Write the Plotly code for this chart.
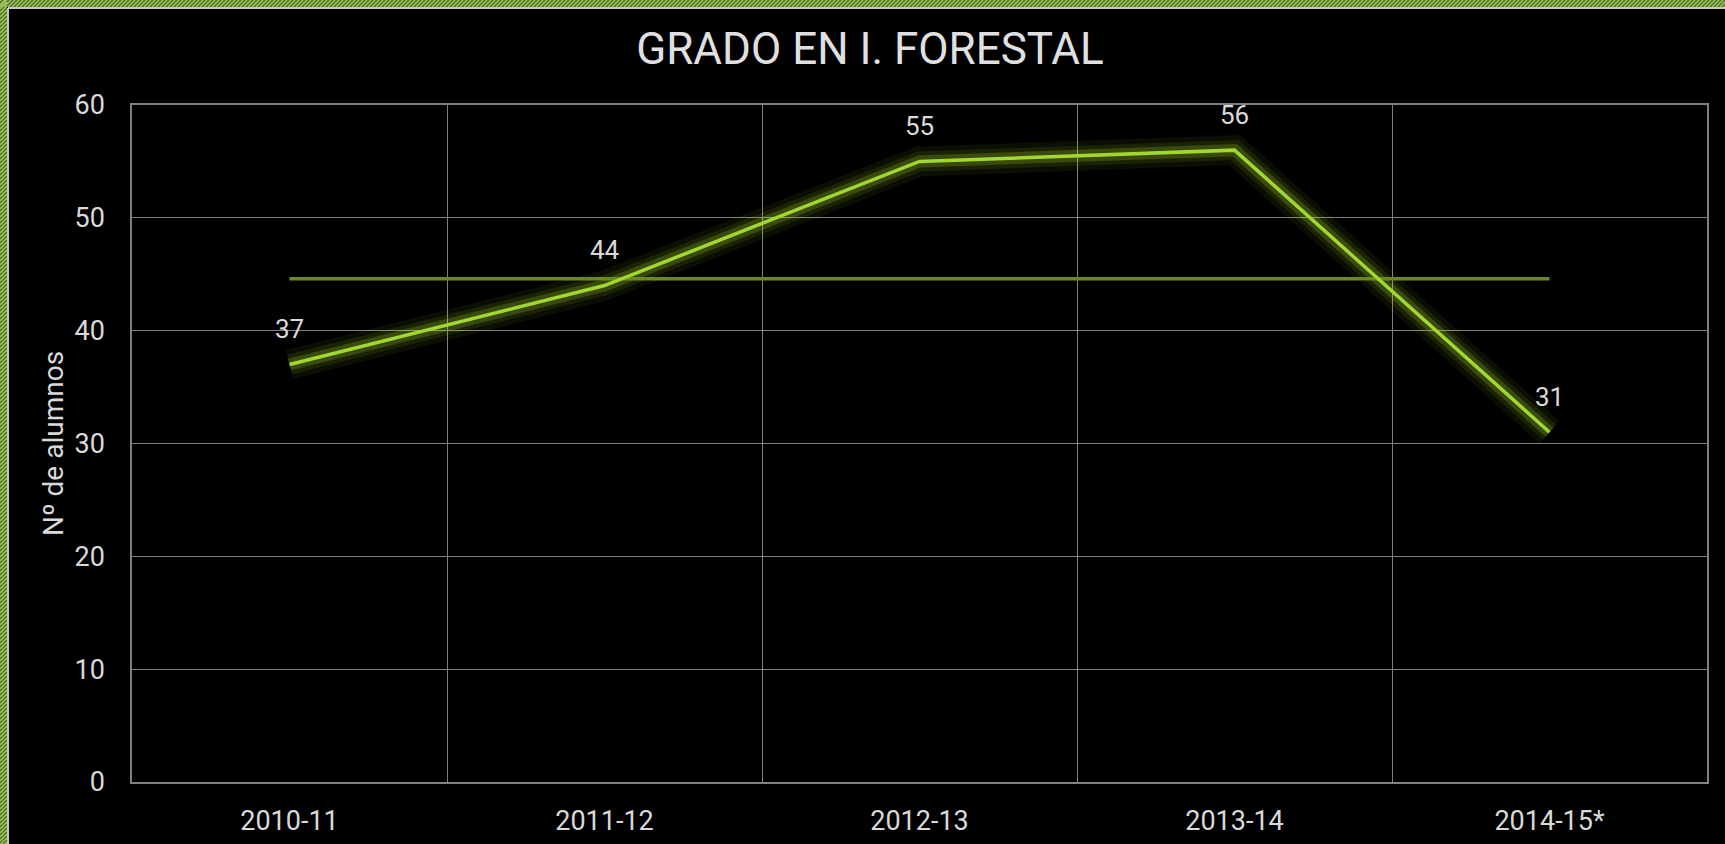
import plotly.graph_objects as go

categories = ["2010-11", "2011-12", "2012-13", "2013-14", "2014-15*"]
alumnos = [37, 44, 55, 56, 31]
y_ticks = [0, 10, 20, 30, 40, 50, 60]
title_text = "GRADO EN I. FORESTAL"
y_title = "Nº de alumnos"

W, H = 1725, 844
L, R, T, B = 132, 18, 105, 62
PW, PH = W - L - R, H - T - B

def px(x):
    return (x - L) / PW

def py(y):
    return (H - B - y) / PH

xs = list(range(len(categories)))
media = sum(alumnos) / len(alumnos)

fig = go.Figure()

# glow layers
for w, a in [(30, 0.06), (20, 0.10), (12, 0.20)]:
    fig.add_trace(go.Scatter(x=xs, y=alumnos, mode="lines",
                             line=dict(color=f"rgba(180,230,40,{a})", width=w, shape="linear"),
                             hoverinfo="skip", showlegend=False))

# mean line
fig.add_trace(go.Scatter(x=[xs[0], xs[-1]], y=[media, media], mode="lines",
                         line=dict(color="#6B8A1C", width=3.5),
                         showlegend=False, hoverinfo="skip"))

# main line
fig.add_trace(go.Scatter(x=xs, y=alumnos, mode="lines",
                         line=dict(color="#A2D630", width=3.5),
                         showlegend=False))

# data labels
fig.add_trace(go.Scatter(x=xs, y=alumnos, mode="markers+text",
                         marker=dict(size=30, color="rgba(0,0,0,0)"),
                         text=[str(v) for v in alumnos], textposition="top center",
                         textfont=dict(color="#D9D9D9", size=26, family="Roboto"),
                         hoverinfo="skip", showlegend=False))

shapes = []
stripe_light = "#9CC45C"
stripe_dark = "#4F6E2A"
shapes.append(dict(type="rect", xref="paper", yref="paper", x0=px(0), x1=px(7), y0=py(H), y1=py(0),
                   fillcolor=stripe_dark, line=dict(width=0), layer="above"))
shapes.append(dict(type="rect", xref="paper", yref="paper", x0=px(0), x1=px(W), y0=py(7), y1=py(0),
                   fillcolor=stripe_dark, line=dict(width=0), layer="above"))
step = 4
for yy in range(-10, H + 10, step):
    shapes.append(dict(type="line", xref="paper", yref="paper",
                       x0=px(0), y0=py(yy + 7), x1=px(7), y1=py(yy),
                       line=dict(color=stripe_light, width=1.6), layer="above"))
for xx in range(0, W + 10, step):
    shapes.append(dict(type="line", xref="paper", yref="paper",
                       x0=px(xx), y0=py(7), x1=px(xx + 7), y1=py(0),
                       line=dict(color=stripe_light, width=1.6), layer="above"))
shapes.append(dict(type="line", xref="paper", yref="paper", x0=px(8), x1=px(8), y0=py(H), y1=py(8),
                   line=dict(color="#C8C8C8", width=2), layer="above"))
shapes.append(dict(type="line", xref="paper", yref="paper", x0=px(8), x1=px(W), y0=py(8), y1=py(8),
                   line=dict(color="#C8C8C8", width=2), layer="above"))

fig.update_layout(
    width=W, height=H,
    margin=dict(l=L, r=R, t=T, b=B, autoexpand=False),
    paper_bgcolor="black", plot_bgcolor="black",
    font=dict(family="Roboto", color="#D9D9D9", size=27),
    title=dict(text=title_text, x=870 / W, xanchor="center", xref="container", y=1 - 49 / H, yanchor="middle",
               font=dict(size=44, color="#E0E0E0", family="Roboto", weight=400)),
    shapes=shapes,
    showlegend=False,
)
fig.update_xaxes(range=[-0.5, 4.5], tickvals=xs, ticktext=categories, showgrid=False,
                 showline=True, linecolor="#808080", linewidth=1.5, mirror=True,
                 ticks="", ticklabelstandoff=14, tickfont=dict(size=27, color="#D9D9D9"),
                 zeroline=False,
                 minor=dict(tickvals=[0.5, 1.5, 2.5, 3.5], showgrid=True, gridcolor="#808080", gridwidth=1.2))
fig.update_yaxes(range=[0, 60], tickvals=y_ticks, showgrid=True, gridcolor="#808080", gridwidth=1.2,
                 showline=True, linecolor="#808080", linewidth=1.5, mirror=True,
                 ticks="", ticklabelstandoff=20, tickfont=dict(size=27, color="#D9D9D9"),
                 zeroline=False,
                 title=dict(text=y_title, font=dict(size=28, color="#D9D9D9"), standoff=3))

fig.write_html("out.html", config={"displayModeBar": False},
               post_script="document.body.style.margin='0px';document.body.style.overflow='hidden';")
